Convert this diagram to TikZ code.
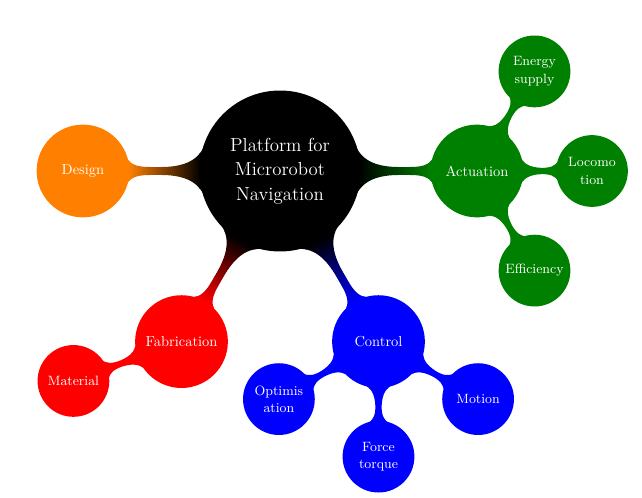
\documentclass[tikz,border=0pt]{standalone}
\usetikzlibrary{mindmap,calc,backgrounds}
\definecolor{actgreen}{RGB}{0,128,0}
\definecolor{desorange}{RGB}{255,128,0}
\begin{document}
\begin{tikzpicture}[mindmap, x=0.69pt, y=0.69pt,
  base/.style={concept, circle, text=white, align=center, inner sep=0pt},
  rootc/.style={base, minimum size=107.6pt, text width=100pt, font=\fontsize{13}{17}\selectfont},
  lone/.style={base, minimum size=62.8pt, text width=56pt, font=\fontsize{10}{12}\selectfont},
  ltwo/.style={base, minimum size=48.3pt, text width=44pt, font=\fontsize{9.3}{12}\selectfont},
]
\useasboundingbox (0,0) rectangle (642,498);
\node[rootc, concept color=black] (root) at (280,327) {Platform for\\Microrobot\\Navigation};
\node[lone, concept color=desorange] (design) at ($(root)+(180:197)$) {Design};
\node[lone, concept color=actgreen] (act) at ($(root)+(0:197)$) {Actuation};
\node[lone, concept color=red] (fab) at ($(root)+(240:197)$) {Fabrication};
\node[lone, concept color=blue] (ctrl) at ($(root)+(300:197)$) {Control};
\node[ltwo, concept color=actgreen] (energy) at ($(act)+(60:115)$) {Energy\\supply};
\node[ltwo, concept color=actgreen] (loco) at ($(act)+(0:115)$) {Locomo\\tion};
\node[ltwo, concept color=actgreen] (eff) at ($(act)+(-60:115)$) {Efficiency};
\node[ltwo, concept color=red] (mat) at ($(fab)+(200:115)$) {Material};
\node[ltwo, concept color=blue] (opt) at ($(ctrl)+(210:115)$) {Optimis\\ation};
\node[ltwo, concept color=blue] (force) at ($(ctrl)+(270:115)$) {Force\\torque};
\node[ltwo, concept color=blue] (motion) at ($(ctrl)+(330:115)$) {Motion};
\begin{pgfonlayer}{background}
\path (root) to[circle connection bar switch color=from (black) to (desorange)] (design);
\path (root) to[circle connection bar switch color=from (black) to (actgreen)] (act);
\path (root) to[circle connection bar switch color=from (black) to (red)] (fab);
\path (root) to[circle connection bar switch color=from (black) to (blue)] (ctrl);
\path (act) to[circle connection bar switch color=from (actgreen) to (actgreen)] (energy);
\path (act) to[circle connection bar switch color=from (actgreen) to (actgreen)] (loco);
\path (act) to[circle connection bar switch color=from (actgreen) to (actgreen)] (eff);
\path (fab) to[circle connection bar switch color=from (red) to (red)] (mat);
\path (ctrl) to[circle connection bar switch color=from (blue) to (blue)] (opt);
\path (ctrl) to[circle connection bar switch color=from (blue) to (blue)] (force);
\path (ctrl) to[circle connection bar switch color=from (blue) to (blue)] (motion);
\end{pgfonlayer}
\end{tikzpicture}
\end{document}
